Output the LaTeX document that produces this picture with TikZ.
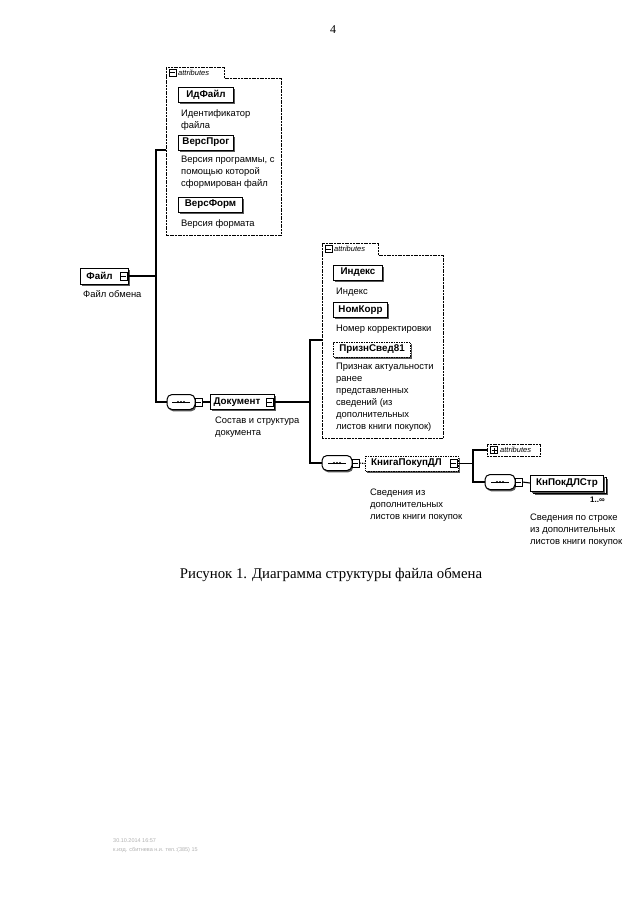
\documentclass[tikz,border=0pt]{standalone}
\usepackage{fontspec}
\setmainfont{Liberation Serif}
\newfontfamily\dsans{Liberation Sans}
\usetikzlibrary{shadows,calc}
\newcommand\seqmark[1]{%
  \draw[line width=0.8pt] ($(#1.center)+(-9,0)$) -- ($(#1.center)+(9,0)$);
  \foreach \dx in {-3,0,3} \fill ($(#1.center)+(\dx,0)$) circle (1.1pt);}
\begin{document}
\begin{tikzpicture}[x=1pt,y=-1pt,
  conn/.style={line width=1.1pt},
  optconn/.style={line width=1.1pt, dash pattern=on 1.5pt off 1pt},
  eshadow/.style={drop shadow={shadow xshift=1.2pt, shadow yshift=-1.8pt, fill=black!65, opacity=1}},
  elbox/.style={draw, line width=1pt, fill=white, font=\dsans\fontsize{9.8}{11}\selectfont\bfseries, inner sep=0pt, minimum height=15pt, anchor=west, eshadow},
  optbox/.style={elbox, dash pattern=on 1.5pt off 1pt},
  desc/.style={font=\dsans\fontsize{9.4}{12}\selectfont, align=left, anchor=north west, inner sep=0pt},
  attrline/.style={line width=0.7pt, dash pattern=on 2pt off 0.7pt},
  attrtext/.style={font=\dsans\fontsize{7.5}{8}\selectfont\itshape, inner sep=0pt, anchor=west},
  minusbox/.style={draw, line width=0.8pt, fill=white, minimum width=7pt, minimum height=8pt, inner sep=0pt,
    path picture={\draw[line width=0.7pt] ($(path picture bounding box.west)+(1pt,0pt)$) -- ($(path picture bounding box.east)+(-1pt,0pt)$);}},
  plusbox/.style={minusbox, path picture={\draw[line width=0.7pt] ($(path picture bounding box.west)+(1pt,0pt)$) -- ($(path picture bounding box.east)+(-1pt,0pt)$); \draw[line width=0.7pt] ($(path picture bounding box.north)+(0pt,-1pt)$) -- ($(path picture bounding box.south)+(0pt,1pt)$);}},
  seqbox/.style={draw, line width=1pt, fill=white, rounded corners=5pt, minimum width=28pt, minimum height=15pt, inner sep=0pt, eshadow},
  blank/.style={inner sep=0pt, anchor=north west}
]
\fill[white] (0,0) rectangle (640,905);
\path[use as bounding box] (0,0) rectangle (640,905);

% page number
\node[font=\fontsize{12}{14}\selectfont] (pnum) at (333,30) {4};

% ---------- attributes of Файл ----------
\node[blank, minimum width=58pt, minimum height=11pt] (a1tab) at (166,67) {};
\node[blank, minimum width=115pt, minimum height=157pt] (a1) at (166,78) {};
\draw[attrline] (a1tab.south west) |- (a1tab.north east) |- (a1.north east) |- (a1.south west) -- cycle;
\node[minusbox, minimum height=7pt] (a1ico) at (172.5,72.5) {};
\node[attrtext] (a1lbl) at (178,72.5) {attributes};

\node[elbox, minimum width=55pt] (idf) at (178,95) {ИдФайл};
\node[desc] (idfd) at (181,109) {Идентификатор\\файла};
\node[elbox, minimum width=55pt] (vp) at (178,142.5) {ВерсПрог};
\node[desc] (vpd) at (181,156) {Версия программы, с\\помощью которой\\сформирован файл};
\node[elbox, minimum width=64pt] (vf) at (178,204.5) {ВерсФорм};
\node[desc] (vfd) at (181,219) {Версия формата};

% ---------- Файл ----------
\node[elbox, minimum width=48pt, minimum height=16pt] (file) at (80,276) {Файл\hspace*{10pt}};
\node[minusbox] (fileC) at (123.5,276) {};
\node[desc] (filed) at (83,290) {Файл обмена};

\coordinate (bus1) at (156,276);
\draw[conn] (fileC.east) -- (bus1);
\draw[conn] (bus1) |- ($(a1.north west)+(0,72)$);

% ---------- Документ ----------
\node[seqbox] (seq1) at (181,402) {};
\seqmark{seq1}
\node[minusbox] (seq1c) at (198.5,402) {};
\draw[conn] (bus1) |- (seq1.west);
\node[elbox, minimum width=64pt] (doc) at (210,402) {Документ\hspace*{11pt}};
\node[minusbox] (docC) at (269.5,402) {};
\draw[conn] (seq1c.east) -- (doc.west);
\node[desc] (docd) at (215,417) {Состав и структура\\документа};

\coordinate (bus2) at (310,402);
\draw[conn] (docC.east) -- (bus2);

% ---------- attributes of Документ ----------
\node[blank, minimum width=56pt, minimum height=12pt] (a2tab) at (322,243) {};
\node[blank, minimum width=121pt, minimum height=183pt] (a2) at (322,255) {};
\draw[attrline] (a2tab.south west) |- (a2tab.north east) |- (a2.north east) |- (a2.south west) -- cycle;
\node[minusbox, minimum height=7pt] (a2ico) at (328.5,249) {};
\node[attrtext] (a2lbl) at (334,249) {attributes};
\draw[conn] (bus2) |- ($(a2.north west)+(0,85)$);

\node[elbox, minimum width=49pt] (idx) at (333,272.5) {Индекс};
\node[desc] (idxd) at (336,288) {Индекс};
\node[elbox, minimum width=54pt] (nk) at (333,310) {НомКорр};
\node[desc] (nkd) at (336,325) {Номер корректировки};
\node[optbox, minimum width=77pt] (ps) at (333,349.5) {ПризнСвед81};
\node[desc] (psd) at (336,363) {Признак актуальности\\ранее\\представленных\\сведений (из\\дополнительных\\листов книги покупок)};

% ---------- КнигаПокупДЛ ----------
\node[seqbox, minimum width=30pt] (seq2) at (337,463) {};
\seqmark{seq2}
\node[minusbox] (seq2c) at (355.5,463) {};
\draw[conn] (bus2) |- (seq2.west);
\node[optbox, minimum width=93pt] (kp) at (365,463.5) {КнигаПокупДЛ\hspace*{11pt}};
\node[minusbox] (kpC) at (453.5,463.5) {};
\draw[optconn] (seq2c.east) -- (kp.west);
\node[desc] (kpd) at (370,489) {Сведения из\\дополнительных\\листов книги покупок};

\coordinate (bus3) at (473,463.5);
\draw[conn] (kpC.east) -- (bus3);

% collapsed attributes
\node[draw, attrline, fill=white, minimum width=53pt, minimum height=12pt, inner sep=0pt, anchor=west] (a3) at (487,450) {};
\node[plusbox, minimum height=7pt] (a3ico) at (494,450) {};
\node[attrtext] (a3lbl) at (500,450) {attributes};
\draw[conn] (bus3) |- (a3.west);

% ---------- КнПокДЛСтр ----------
\node[seqbox, minimum width=30pt] (seq3) at (500,482) {};
\seqmark{seq3}
\node[minusbox] (seq3c) at (518.5,482) {};
\draw[conn] (bus3) |- (seq3.west);
\node[elbox, minimum width=73pt, minimum height=16pt] (kpsback) at (533,485) {};
\node[elbox, minimum width=73pt, minimum height=16pt] (kps) at (530,483) {КнПокДЛСтр};
\draw[conn] (seq3c.east) -- (kps.west);
\node[font=\dsans\fontsize{8}{8}\selectfont\bfseries, anchor=east, inner sep=0pt] (kpsm) at (605,500) {1..∞};
\node[desc] (kpsd) at (530,514) {Сведения по строке\\из дополнительных\\листов книги покупок};

% caption
\node[font=\fontsize{14.8}{16}\selectfont] (cap) at (331,575) {Рисунок 1. Диаграмма структуры файла обмена};

% faint stamp
\node[font=\dsans\fontsize{5.5}{9}\selectfont, text=black!30, align=left, anchor=north west, inner sep=0pt] (stamp) at (113,838) {30.10.2014 16:57\\к.изд. сбитнева н.и. тел.:(385) 15};
\end{tikzpicture}
\end{document}
